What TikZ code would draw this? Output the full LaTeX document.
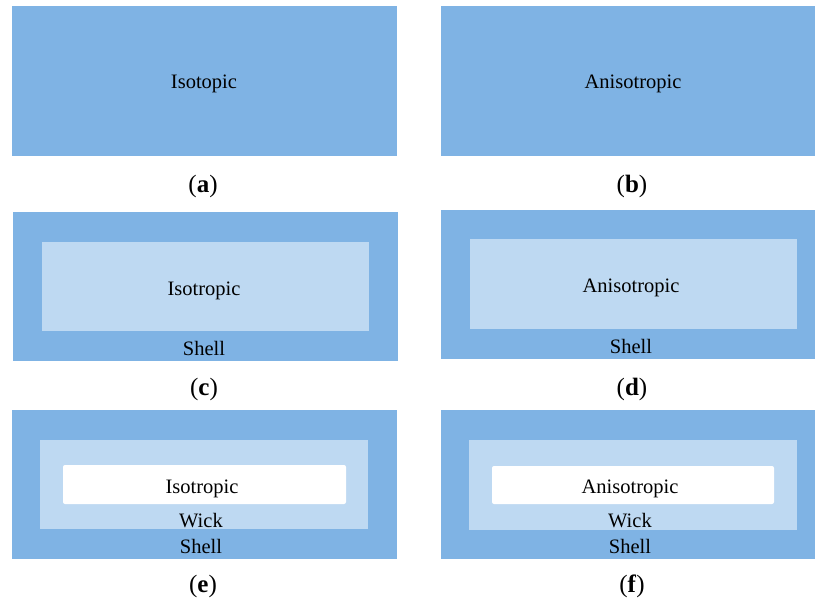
\documentclass[tikz,border=0pt]{standalone}
\usepackage{fontspec}
\setmainfont{Liberation Serif}
\definecolor{shellblue}{RGB}{127,179,228}
\definecolor{wickblue}{RGB}{190,217,242}
\begin{document}
\begin{tikzpicture}[x=1pt,y=-1pt,
  shell/.style={fill=shellblue},
  wick/.style={fill=wickblue},
  core/.style={fill=white,rounded corners=2pt},
  txt/.style={anchor=base,inner sep=0pt,font=\fontsize{20.5}{24}\selectfont},
  lab/.style={anchor=base,inner sep=0pt,font=\fontsize{25}{30}\selectfont}]
\useasboundingbox[fill=white] (0,0) rectangle (815,602);
% (a)
\fill[shell] (12,6) rectangle (397,156);
\node[txt] (ta) at (204,89) {Isotopic};
\node[lab] (la) at (203,193) {(\textbf{a})};
% (b)
\fill[shell] (441,6) rectangle (815,156);
\node[txt] (tb) at (633,89) {Anisotropic};
\node[lab] (lb) at (632,193) {(\textbf{b})};
% (c)
\fill[shell] (13,212) rectangle (398,361);
\fill[wick] (42,242) rectangle (369,331);
\node[txt] (tc) at (204,295) {Isotropic};
\node[txt] (sc) at (204,355) {Shell};
\node[lab] (lc) at (204,395) {(\textbf{c})};
% (d)
\fill[shell] (441,210) rectangle (815,359);
\fill[wick] (470,239) rectangle (797,329);
\node[txt] (td) at (631,292) {Anisotropic};
\node[txt] (sd) at (631,353) {Shell};
\node[lab] (ld) at (632,395) {(\textbf{d})};
% (e)
\fill[shell] (12,410) rectangle (397,559);
\fill[wick] (40,440) rectangle (368,529);
\fill[core] (63,465) rectangle (346,504);
\node[txt] (te) at (202,493) {Isotropic};
\node[txt] (we) at (201,527) {Wick};
\node[txt] (se) at (201,553) {Shell};
\node[lab] (le) at (203,592) {(\textbf{e})};
% (f)
\fill[shell] (441,410) rectangle (815,559);
\fill[wick] (469,440) rectangle (797,530);
\fill[core] (492,466) rectangle (774,504);
\node[txt] (tf) at (630,493) {Anisotropic};
\node[txt] (wf) at (630,527) {Wick};
\node[txt] (sf) at (630,553) {Shell};
\node[lab] (lf) at (632,592) {(\textbf{f})};
\end{tikzpicture}
\end{document}
